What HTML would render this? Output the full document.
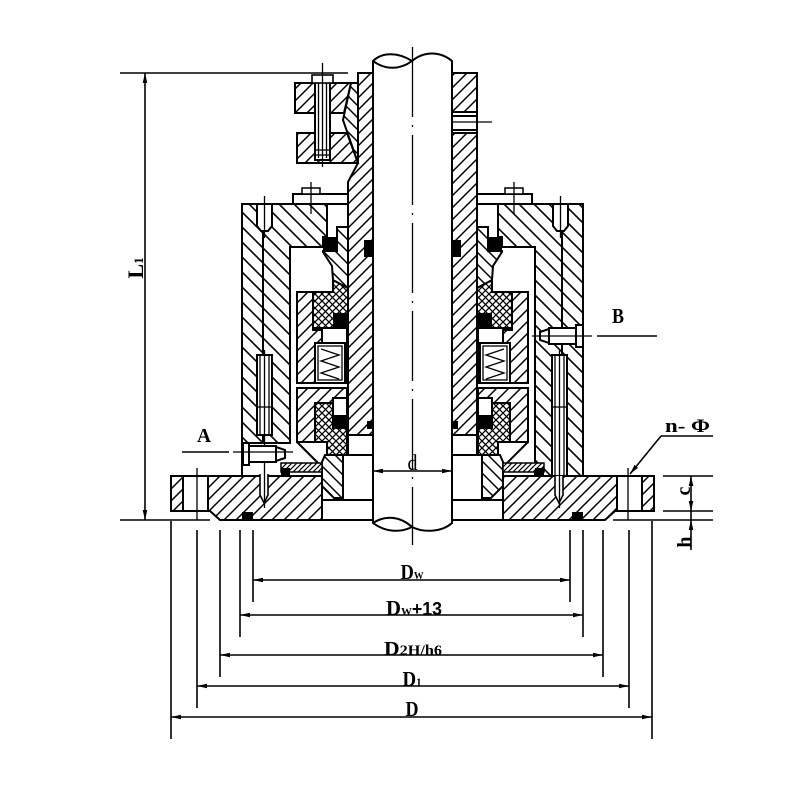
<!DOCTYPE html>
<html><head><meta charset="utf-8"><style>
html,body{margin:0;padding:0;background:#fff}
svg{display:block}
.o{stroke:#000;stroke-width:2;stroke-linejoin:miter}
.t{stroke:#000;stroke-width:1.3;fill:none}
.d{stroke:#000;stroke-width:1.6;fill:none}
.L .s{fill:url(#S)} .L .b{fill:url(#B)} .L .g{fill:url(#G)}
.R .s{fill:url(#B)} .R .b{fill:url(#S)} .R .g{fill:url(#GB)}
.x{fill:url(#X)} .w{fill:#fff} .k{fill:#000}
text{font-family:"Liberation Serif",serif;font-weight:bold;fill:#000}
</style></head><body>
<svg width="800" height="800" viewBox="0 0 800 800" xmlns="http://www.w3.org/2000/svg">
<defs>
<pattern id="S" width="12" height="12" patternUnits="userSpaceOnUse"><rect width="12" height="12" fill="#fff"/><path d="M-3,3L3,-3M0,12L12,0M9,15L15,9" stroke="#000" stroke-width="1.5"/></pattern>
<pattern id="B" width="12" height="12" patternUnits="userSpaceOnUse"><rect width="12" height="12" fill="#fff"/><path d="M-3,9L3,15M0,0L12,12M9,-3L15,3" stroke="#000" stroke-width="1.5"/></pattern>
<pattern id="HB" width="15" height="15" patternUnits="userSpaceOnUse"><rect width="15" height="15" fill="#fff"/><path d="M-4,11L4,19M0,0L15,15M11,-4L19,4" stroke="#000" stroke-width="1.6"/></pattern>
<pattern id="G" width="5" height="5" patternUnits="userSpaceOnUse"><rect width="5" height="5" fill="#fff"/><path d="M-1,1L1,-1M0,5L5,0M4,6L6,4" stroke="#000" stroke-width="1.2"/></pattern>
<pattern id="GB" width="5" height="5" patternUnits="userSpaceOnUse"><rect width="5" height="5" fill="#fff"/><path d="M-1,4L1,6M0,0L5,5M4,-1L6,1" stroke="#000" stroke-width="1.2"/></pattern>
<pattern id="X" width="7" height="7" patternUnits="userSpaceOnUse"><rect width="7" height="7" fill="#fff"/><path d="M0,0L7,7M0,7L7,0" stroke="#000" stroke-width="1.3"/></pattern>
<marker id="a" viewBox="0 0 10 6" markerWidth="10" markerHeight="6" refX="10" refY="3" orient="auto-start-reverse" markerUnits="userSpaceOnUse"><path d="M0,0.7L10,3L0,5.3z" fill="#000"/></marker>
</defs>
<rect width="800" height="800" fill="#fff"/>

<!-- housings -->
<polygon class="o" fill="url(#HB)" points="242,204 327,204 327,237 323,237 323,247 290,247 290,443 242,443"/>
<line class="o" x1="263" y1="204" x2="263" y2="443"/>
<line class="o" x1="242" y1="443" x2="242" y2="476"/>
<polygon class="o" fill="url(#HB)" points="498,204 583,204 583,476 535,476 535,247 502,247 502,237 498,237"/>
<line class="o" x1="562" y1="204" x2="562" y2="476"/>

<!-- left half -->
<g class="L">
<polygon class="s o" points="208,476 322,476 322,520 220,520 210,511 208,511"/>
<rect class="w o" x="171" y="476" width="37" height="35"/>
<rect class="s o" x="171" y="476" width="12" height="35"/>
<line class="t" x1="197" y1="468" x2="197" y2="520"/>
<rect class="k" x="242" y="512" width="11" height="8"/>
<line class="o" x1="220" y1="520" x2="373" y2="520"/>
<line class="o" x1="322" y1="500" x2="373" y2="500"/>
<rect class="w o" x="343" y="455" width="30" height="45"/>
<rect class="w o" x="348" y="435" width="25" height="20"/>
<polygon class="b o" points="325,455 343,455 343,498 334,498 322,486 322,462"/>
<line class="o" x1="297" y1="442" x2="318" y2="463"/>
<rect class="g o" x="281" y="463" width="41" height="9" style="stroke-width:1.5"/>
<rect class="k" x="281" y="468" width="9" height="8"/>
<rect class="w o" x="297" y="388" width="50" height="54"/>
<polygon class="s o" points="297,388 347,388 347,398 333,398 333,403 315,403 315,442 297,442"/>
<polygon class="x o" points="315,403 333,403 333,428 347,428 347,455 327,455 327,442 315,442"/>
<rect class="k" x="333" y="415" width="14" height="13"/>
<rect class="w o" x="297" y="292" width="50" height="91"/>
<polygon class="s o" points="297,292 313,292 313,330 322,330 322,343 315,343 315,383 297,383"/>
<polygon class="x o" points="333,280 348,288 348,328 313,328 313,292 333,292"/>
<rect class="k" x="333" y="313" width="14" height="14"/>
<rect class="w o" x="315" y="343" width="30" height="40"/>
<rect class="w t" x="318" y="346" width="24" height="34"/>
<polyline class="t" points="321,349 339,355 321,361 339,367 321,373 339,379"/>
<polygon class="b o" points="337,227 348,227 348,288 333,280 332,266 323,252 323,251 337,251"/>
<rect class="k" x="323" y="237" width="14" height="14"/>
<rect class="w o" x="293" y="194" width="57" height="10"/>
<rect class="w o" x="302" y="188" width="18" height="6" style="stroke-width:1.5"/>
<line class="t" x1="311" y1="182" x2="311" y2="214"/>
<polygon class="w o" points="257,204 272,204 272,226 268,231 261,231 257,226"/>
<line class="t" x1="264.5" y1="196" x2="264.5" y2="238"/>
</g>

<!-- right half (mirror) -->
<g class="R" transform="matrix(-1,0,0,1,825,0)">
<polygon class="s o" points="208,476 322,476 322,520 220,520 210,511 208,511"/>
<rect class="w o" x="171" y="476" width="37" height="35"/>
<rect class="s o" x="171" y="476" width="12" height="35"/>
<line class="t" x1="197" y1="468" x2="197" y2="520"/>
<rect class="k" x="242" y="512" width="11" height="8"/>
<line class="o" x1="220" y1="520" x2="373" y2="520"/>
<line class="o" x1="322" y1="500" x2="373" y2="500"/>
<rect class="w o" x="343" y="455" width="30" height="45"/>
<rect class="w o" x="348" y="435" width="25" height="20"/>
<polygon class="b o" points="325,455 343,455 343,498 334,498 322,486 322,462"/>
<line class="o" x1="297" y1="442" x2="318" y2="463"/>
<rect class="g o" x="281" y="463" width="41" height="9" style="stroke-width:1.5"/>
<rect class="k" x="281" y="468" width="9" height="8"/>
<rect class="w o" x="297" y="388" width="50" height="54"/>
<polygon class="s o" points="297,388 347,388 347,398 333,398 333,403 315,403 315,442 297,442"/>
<polygon class="x o" points="315,403 333,403 333,428 347,428 347,455 327,455 327,442 315,442"/>
<rect class="k" x="333" y="415" width="14" height="13"/>
<rect class="w o" x="297" y="292" width="50" height="91"/>
<polygon class="s o" points="297,292 313,292 313,330 322,330 322,343 315,343 315,383 297,383"/>
<polygon class="x o" points="333,280 348,288 348,328 313,328 313,292 333,292"/>
<rect class="k" x="333" y="313" width="14" height="14"/>
<rect class="w o" x="315" y="343" width="30" height="40"/>
<rect class="w t" x="318" y="346" width="24" height="34"/>
<polyline class="t" points="321,349 339,355 321,361 339,367 321,373 339,379"/>
<polygon class="b o" points="337,227 348,227 348,288 333,280 332,266 323,252 323,251 337,251"/>
<rect class="k" x="323" y="237" width="14" height="14"/>
<rect class="w o" x="293" y="194" width="57" height="10"/>
<rect class="w o" x="302" y="188" width="18" height="6" style="stroke-width:1.5"/>
<line class="t" x1="311" y1="182" x2="311" y2="214"/>
<polygon class="w o" points="257,204 272,204 272,226 268,231 261,231 257,226"/>
<line class="t" x1="264.5" y1="196" x2="264.5" y2="238"/>
</g>

<!-- sleeves -->
<polygon class="o" fill="url(#S)" points="358,73 373,73 373,435 348,435 348,182 358,163"/>
<polygon class="o" fill="url(#S)" points="452,73 477,73 477,435 452,435"/>
<rect class="w o" x="452" y="112" width="25" height="21"/>
<line class="o" x1="452" y1="116" x2="477" y2="116"/>
<line class="o" x1="452" y1="130" x2="477" y2="130"/>
<line class="t" x1="444" y1="122" x2="492" y2="122"/>
<rect class="k" x="364" y="240" width="9" height="17"/>
<rect class="k" x="452" y="240" width="9" height="17"/>
<rect class="k" x="367" y="421" width="6" height="8"/>
<rect class="k" x="452" y="421" width="6" height="8"/>

<!-- shaft -->
<path class="w o" d="M373,523 L373,61 C382,52 398,52 412,61 C424,51 440,51 452,61 L452,523 C442,532 424,533 412,527 C400,533 385,532 373,523 Z"/>
<path class="o" fill="none" d="M373,61 C385,70 400,70 412,61"/>
<path class="o" fill="none" d="M373,523 C385,515 400,516 412,527"/>
<line class="t" x1="412.5" y1="47" x2="412.5" y2="545" stroke-dasharray="70 8 2 8"/>

<!-- upper collar -->
<polygon class="o" fill="url(#S)" points="295,83 351,83 344,113 295,113"/>
<polygon class="o" fill="url(#S)" points="297,133 347,133 358,163 297,163"/>
<polygon class="o" fill="url(#B)" points="351,83 358,83 358,163 343,120"/>
<rect class="w o" x="315" y="78" width="15" height="82"/>
<line class="t" x1="318.5" y1="80" x2="318.5" y2="158"/>
<line class="t" x1="326.5" y1="80" x2="326.5" y2="158"/>
<rect class="w o" x="312" y="75" width="21" height="8" style="stroke-width:1.6"/>
<line class="t" x1="315" y1="150" x2="330" y2="150"/>
<line class="t" x1="315" y1="155" x2="330" y2="155"/>
<line class="t" x1="322.5" y1="63" x2="322.5" y2="167"/>

<!-- pins -->
<rect class="w o" x="257" y="355" width="15" height="80"/>
<line class="t" x1="260" y1="355" x2="260" y2="435"/>
<line class="t" x1="269" y1="355" x2="269" y2="435"/>
<line class="t" x1="257" y1="407" x2="272" y2="407"/>
<path class="w o" d="M260,474 L260,495 L264,503 L268,495 L268,474" style="stroke-width:1.6"/>
<line class="t" x1="264.5" y1="350" x2="264.5" y2="508"/>
<rect class="w o" x="552" y="355" width="15" height="121"/>
<line class="t" x1="555" y1="355" x2="555" y2="476"/>
<line class="t" x1="564" y1="355" x2="564" y2="476"/>
<line class="t" x1="552" y1="407" x2="567" y2="407"/>
<path class="w o" d="M555,476 L555,495 L559,503 L563,495 L563,476" style="stroke-width:1.6"/>
<line class="t" x1="559.5" y1="350" x2="559.5" y2="508"/>

<!-- plug A -->
<rect class="w o" x="243" y="443" width="6" height="22"/>
<rect class="w o" x="249" y="446" width="27" height="16"/>
<polygon class="w o" points="276,447 285,450 285,458 276,461"/>
<line class="t" x1="233" y1="452" x2="293" y2="452"/>
<line class="d" x1="182" y1="452" x2="229" y2="452"/>
<text x="204" y="442" font-size="20" text-anchor="middle" textLength="14" lengthAdjust="spacingAndGlyphs">A</text>

<!-- plug B -->
<rect class="w o" x="576" y="325" width="7" height="22"/>
<rect class="w o" x="549" y="328" width="27" height="16"/>
<polygon class="w o" points="549,329 540,332 540,340 549,343"/>
<line class="t" x1="532" y1="336" x2="592" y2="336"/>
<line class="d" x1="597" y1="336" x2="657" y2="336"/>
<text x="618" y="323" font-size="21" text-anchor="middle" textLength="12" lengthAdjust="spacingAndGlyphs">B</text>

<!-- d -->
<line class="d" x1="373" y1="471" x2="452" y2="471" marker-start="url(#a)" marker-end="url(#a)"/>
<text x="412.5" y="470" font-size="22" text-anchor="middle" textLength="10" lengthAdjust="spacingAndGlyphs" style="font-weight:normal">d</text>

<!-- L1 -->
<line class="d" x1="120" y1="73" x2="348" y2="73"/>
<line class="d" x1="120" y1="520" x2="210" y2="520"/>
<line class="d" x1="145" y1="73" x2="145" y2="520" marker-start="url(#a)" marker-end="url(#a)"/>
<text transform="translate(143,268) rotate(-90)" font-size="22" text-anchor="middle">L<tspan font-size="13">1</tspan></text>

<!-- right c / h -->
<line class="d" x1="663" y1="476" x2="713" y2="476"/>
<line class="d" x1="663" y1="511" x2="713" y2="511"/>
<line class="d" x1="613" y1="520" x2="713" y2="520"/>
<line class="d" x1="691" y1="476" x2="691" y2="511" marker-start="url(#a)" marker-end="url(#a)"/>
<line class="d" x1="691" y1="550" x2="691" y2="520" marker-end="url(#a)"/>
<line class="d" x1="691" y1="511" x2="691" y2="520"/>
<text transform="translate(690,491) rotate(-90)" font-size="20" text-anchor="middle">c</text>
<text transform="translate(691,542) rotate(-90)" font-size="20" text-anchor="middle">h</text>

<!-- n-Phi -->
<line class="d" x1="661" y1="436" x2="713" y2="436"/>
<line class="d" x1="661" y1="436" x2="630" y2="474" marker-end="url(#a)"/>
<text x="665" y="432" font-size="19" textLength="45" lengthAdjust="spacingAndGlyphs">n- Φ</text>

<!-- bottom dims -->
<g class="d">
<line x1="253" y1="530" x2="253" y2="602"/><line x1="570" y1="530" x2="570" y2="602"/>
<line x1="240" y1="530" x2="240" y2="637"/><line x1="583" y1="530" x2="583" y2="637"/>
<line x1="220" y1="530" x2="220" y2="677"/><line x1="603" y1="530" x2="603" y2="677"/>
<line x1="197" y1="530" x2="197" y2="708"/><line x1="629" y1="530" x2="629" y2="708"/>
<line x1="171" y1="521" x2="171" y2="739"/><line x1="652" y1="521" x2="652" y2="739"/>
<line x1="253" y1="580" x2="570" y2="580" marker-start="url(#a)" marker-end="url(#a)"/>
<line x1="240" y1="615" x2="583" y2="615" marker-start="url(#a)" marker-end="url(#a)"/>
<line x1="220" y1="655" x2="603" y2="655" marker-start="url(#a)" marker-end="url(#a)"/>
<line x1="197" y1="686" x2="629" y2="686" marker-start="url(#a)" marker-end="url(#a)"/>
<line x1="171" y1="717" x2="652" y2="717" marker-start="url(#a)" marker-end="url(#a)"/>
</g>
<text x="412" y="579" font-size="21" text-anchor="middle" textLength="23" lengthAdjust="spacingAndGlyphs">D<tspan font-size="11">W</tspan></text>
<text x="414" y="615" font-size="21" text-anchor="middle" textLength="56" lengthAdjust="spacingAndGlyphs">D<tspan font-size="11">W</tspan><tspan font-family="Liberation Sans" font-size="18">+13</tspan></text>
<text x="413" y="655" font-size="20" text-anchor="middle" textLength="58" lengthAdjust="spacingAndGlyphs">D<tspan font-size="15">2H/h6</tspan></text>
<text x="412" y="686" font-size="21" text-anchor="middle" textLength="19" lengthAdjust="spacingAndGlyphs">D<tspan font-size="12">1</tspan></text>
<text x="412" y="716" font-size="21" text-anchor="middle" textLength="13" lengthAdjust="spacingAndGlyphs">D</text>
</svg>
</body></html>
